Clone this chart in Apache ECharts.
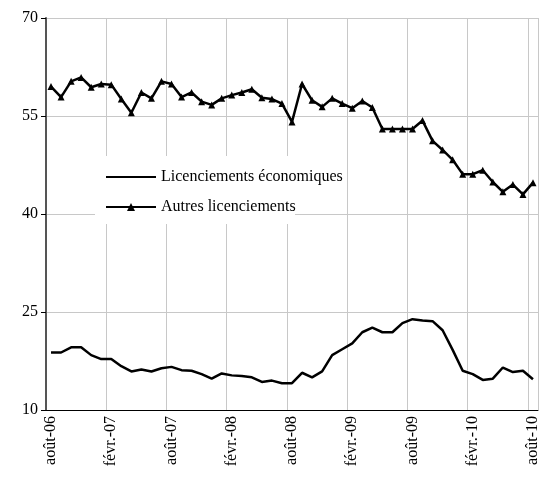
<!DOCTYPE html>
<html>
<head>
<meta charset="utf-8">
<script src="https://cdn.jsdelivr.net/npm/echarts@6/dist/echarts.min.js"></script>
<style>
  html, body { margin: 0; padding: 0; background: #fff; }
  #chart { width: 544px; height: 495px; }
</style>
</head>
<body>
<div id="chart"></div>
<script>
// Months août-06 .. août-10
const months = ['août-06', 'sept.-06', 'oct.-06', 'nov.-06', 'déc.-06', 'janv.-07',
    'févr.-07', 'mars-07', 'avr.-07', 'mai-07', 'juin-07', 'juil.-07',
    'août-07', 'sept.-07', 'oct.-07', 'nov.-07', 'déc.-07', 'janv.-08',
    'févr.-08', 'mars-08', 'avr.-08', 'mai-08', 'juin-08', 'juil.-08',
    'août-08', 'sept.-08', 'oct.-08', 'nov.-08', 'déc.-08', 'janv.-09',
    'févr.-09', 'mars-09', 'avr.-09', 'mai-09', 'juin-09', 'juil.-09',
    'août-09', 'sept.-09', 'oct.-09', 'nov.-09', 'déc.-09', 'janv.-10',
    'févr.-10', 'mars-10', 'avr.-10', 'mai-10', 'juin-10', 'juil.-10',
    'août-10'];

const economiques = [18.8, 18.8, 19.6, 19.6, 18.4, 17.8, 17.8, 16.7, 15.9, 16.2,
    15.9, 16.4, 16.6, 16.1, 16.0, 15.5, 14.8, 15.6, 15.3, 15.2,
    15.0, 14.3, 14.5, 14.1, 14.1, 15.7, 15.0, 15.9, 18.4, 19.3,
    20.2, 21.9, 22.6, 21.9, 21.9, 23.3, 23.9, 23.7, 23.6, 22.2,
    19.2, 16.0, 15.5, 14.6, 14.8, 16.5, 15.8, 16.0, 14.7];

const autres = [59.5, 57.9, 60.3, 60.9, 59.4, 59.9, 59.8, 57.6, 55.5, 58.6,
    57.7, 60.3, 59.9, 57.9, 58.6, 57.2, 56.7, 57.7, 58.2, 58.6,
    59.1, 57.8, 57.6, 56.9, 54.1, 59.9, 57.4, 56.4, 57.7, 56.9,
    56.2, 57.3, 56.3, 53.0, 53.0, 53.0, 53.0, 54.3, 51.2, 49.8,
    48.3, 46.1, 46.1, 46.7, 44.9, 43.4, 44.5, 43.0, 44.8];

const font = 'Liberation Serif, Times New Roman, serif';
const chart = echarts.init(document.getElementById('chart'));

chart.setOption({
    animation: false,
    textStyle: { fontFamily: font, color: '#000' },
    grid: { left: 46, right: 6, top: 18, bottom: 85 },
    graphic: [{
        type: 'rect',
        shape: { x: 95, y: 156, width: 200, height: 68 },
        style: { fill: '#fff' },
        z: 5
    }],
    legend: {
        left: 100, top: 164, orient: 'vertical', itemGap: 14,
        itemWidth: 50, itemHeight: 10, z: 10,
        textStyle: { fontFamily: font, fontSize: 16, color: '#000' },
        data: [
            { name: 'Licenciements économiques', itemStyle: { opacity: 0 } },
            'Autres licenciements'
        ]
    },
    xAxis: {
        type: 'category',
        data: months,
        boundaryGap: true,
        axisLine: { lineStyle: { color: '#000', width: 1 } },
        axisTick: { interval: 5, length: 5, lineStyle: { color: '#000' } },
        axisLabel: { interval: 5, rotate: 90, fontSize: 16, color: '#000', fontFamily: font, margin: 6 },
        splitLine: { show: true, interval: 5, lineStyle: { color: '#c8c8c8' } }
    },
    yAxis: {
        type: 'value',
        min: 10, max: 70, interval: 15,
        axisLine: { show: true, lineStyle: { color: '#555', width: 2 } },
        axisTick: { show: true, length: 5, lineStyle: { color: '#000' } },
        axisLabel: { fontSize: 16, color: '#000', fontFamily: font, margin: 8 },
        splitLine: { lineStyle: { color: '#c8c8c8' } }
    },
    series: [
        {
            name: 'Licenciements économiques',
            type: 'line',
            data: economiques,
            symbol: 'none',
            lineStyle: { color: '#000', width: 2.5 },
            itemStyle: { color: '#000' }
        },
        {
            name: 'Autres licenciements',
            type: 'line',
            data: autres,
            symbol: 'triangle',
            symbolSize: 7,
            showAllSymbol: true,
            lineStyle: { color: '#000', width: 2.5 },
            itemStyle: { color: '#000' }
        }
    ]
});
</script>
</body>
</html>
